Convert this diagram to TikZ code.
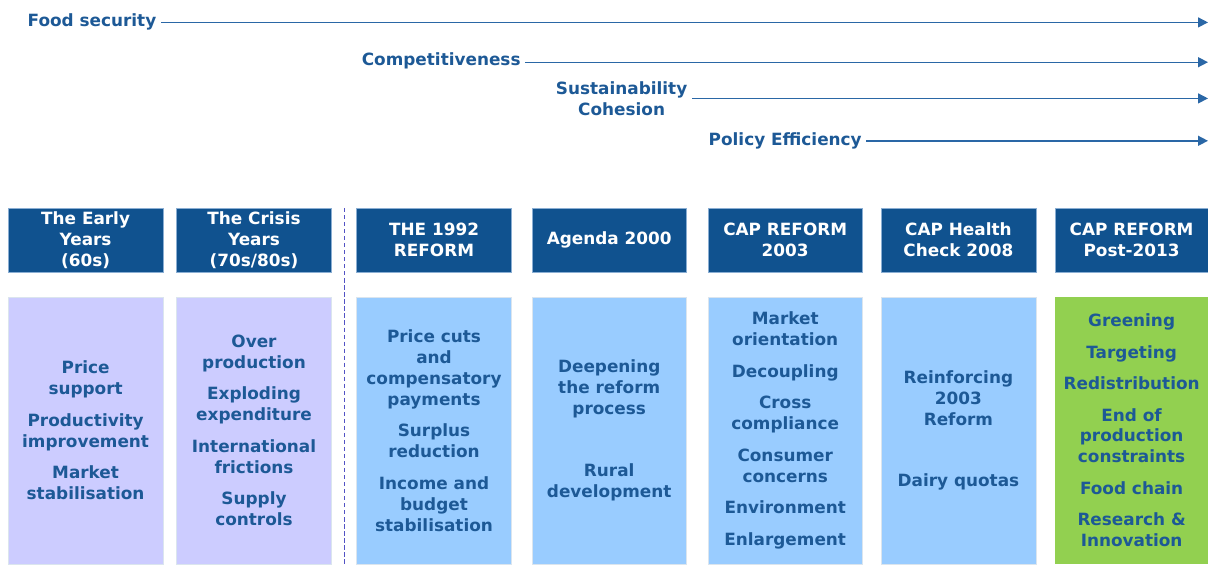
\documentclass[tikz,border=0pt]{standalone}
\usepackage{fontspec}
\setmainfont{DejaVu Sans}
\usepackage{xcolor}
\usepackage{tikz}
\usetikzlibrary{arrows.meta}
\definecolor{capnavy}{HTML}{10528F}
\definecolor{capedge}{HTML}{8AAED3}
\definecolor{captext}{HTML}{1D5996}
\definecolor{capline}{HTML}{2A67A6}
\definecolor{caplilac}{HTML}{CCCCFF}
\definecolor{capsky}{HTML}{99CCFF}
\definecolor{capgreen}{HTML}{92D050}
\definecolor{capdots}{HTML}{5252C4}

\begin{document}
\begin{tikzpicture}[
    txt/.style={
        font=\fontsize{12}{14.9}\selectfont\bfseries,
        text=captext,
        align=center
    },
    era/.style={
        txt,
        text=white,
        fill=capnavy,
        draw=capedge,
        line width=0.4pt,
        minimum width=3.87cm,
        minimum height=1.6cm,
        inner sep=0pt
    },
    theme/.style={
        txt,
        draw=white!85!capnavy,
        line width=0.4pt,
        minimum width=3.87cm,
        minimum height=6.675cm,
        inner sep=0pt
    },
    goal/.style={
        txt,
        inner sep=3.2pt
    },
    trend/.style={
        draw=capline,
        line width=1pt,
        -{Triangle[length=7pt,width=7pt]}
    }
]

\useasboundingbox (0,0) rectangle (30.2,14.1);

% ============================================================
% Policy objectives, running to the right edge
% ============================================================

\coordinate (edge) at (30.2,0);

\node[goal] (food) at (2.3,13.54) {Food security};
\node[goal] (compet) at (11.03,12.58) {Competitiveness};
\node[goal] (sust) at (15.54,11.64) {Sustainability\\Cohesion};
\node[goal] (effic) at (19.63,10.58) {Policy Efficiency};

\draw[trend] (food.east) -- (food.east -| edge);
\draw[trend] ([yshift=-1pt]compet.east) -- ([yshift=-1pt]compet.east -| edge);
\draw[trend] (sust.east) -- (sust.east -| edge);
\draw[trend] (effic.east) -- (effic.east -| edge);

% ============================================================
% Period headers
% ============================================================

\node[era] (early) at (2.14,8.1) {The Early\\Years\\(60s)};
\node[era] (crisis) at (6.35,8.1) {The Crisis\\Years\\(70s/80s)};
\node[era] (r1992) at (10.85,8.1) {THE 1992\\REFORM};
\node[era] (ag2000) at (15.23,8.1) {Agenda 2000};
\node[era] (r2003) at (19.63,8.1) {CAP REFORM\\2003};
\node[era] (hc2008) at (23.96,8.1) {CAP Health\\Check 2008};
\node[era, minimum width=3.83cm] (post2013) at (28.29,8.1) {CAP REFORM\\Post-2013};

% ============================================================
% Main features of each period
% ============================================================

\node[theme, fill=caplilac] (earlyT) at (2.14,3.34) {
    Price\\support\\[7.5pt]
    Productivity\\improvement\\[7.5pt]
    Market\\stabilisation
};

\node[theme, fill=caplilac] (crisisT) at (6.35,3.34) {
    Over\\production\\[7.5pt]
    Exploding\\expenditure\\[7.5pt]
    International\\frictions\\[7.5pt]
    Supply\\controls
};

\node[theme, fill=capsky] (r1992T) at (10.85,3.34) {
    Price cuts\\and\\compensatory\\payments\\[7.5pt]
    Surplus\\reduction\\[7.5pt]
    Income and\\budget\\stabilisation
};

\node[theme, fill=capsky] (ag2000T) at (15.23,3.34) {
    Deepening\\the reform\\process\\[29pt]
    Rural\\development
};

\node[theme, fill=capsky] (r2003T) at (19.63,3.34) {
    Market\\orientation\\[7.5pt]
    Decoupling\\[7.5pt]
    Cross\\compliance\\[7.5pt]
    Consumer\\concerns\\[7.5pt]
    Environment\\[7.5pt]
    Enlargement
};

\node[theme, fill=capsky] (hc2008T) at (23.96,3.34) {
    Reinforcing\\2003\\Reform\\[29pt]
    Dairy quotas
};

\node[theme, fill=capgreen, draw=none, minimum width=3.83cm] (post2013T) at (28.29,3.34) {
    Greening\\[7.5pt]
    Targeting\\[7.5pt]
    Redistribution\\[7.5pt]
    End of\\production\\constraints\\[7.5pt]
    Food chain\\[7.5pt]
    Research \&\\Innovation
};

% dividing line after the crisis years
\draw[capdots, densely dashed, line width=0.6pt] (8.6,8.9) -- (8.6,0);

\end{tikzpicture}
\end{document}
